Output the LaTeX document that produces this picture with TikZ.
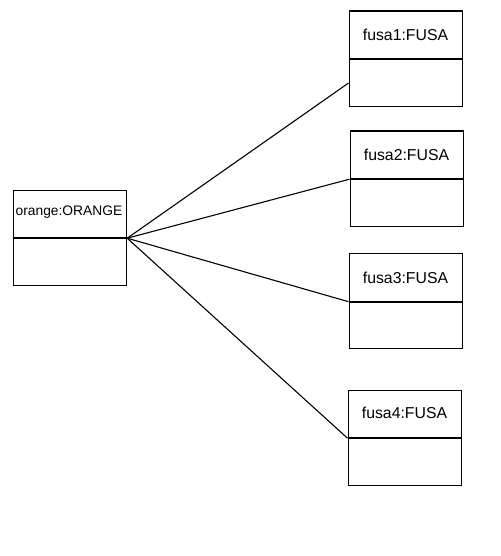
\documentclass[tikz,border=0pt]{standalone}
\usepackage{fontspec}
\setmainfont{Liberation Sans}
\begin{document}
\begin{tikzpicture}[x=1pt,y=-1pt,
  head/.style={draw,line width=1.2pt,minimum width=113.5pt,minimum height=47.5pt,inner sep=0pt,anchor=north west},
  body/.style={draw,line width=1.2pt,minimum width=113.5pt,minimum height=46.5pt,inner sep=0pt,anchor=north},
  lbl/.style={font=\fontsize{15.8}{18}\selectfont},
  lbls/.style={font=\fontsize{13.8}{16}\selectfont},
  link/.style={line width=1.1pt}]
\useasboundingbox (0,0) rectangle (500,556);
% orange
\node[head] (oh) at (12.5,189.5) {};
\node[body] (ob) at (oh.south) {};
\node[lbls] (ot) at (69,212) {orange:ORANGE};
% fusa1
\node[head] (f1h) at (348.5,10.5) {};
\node[body] (f1b) at (f1h.south) {};
\node[lbl] (f1t) at (405.5,35) {fusa1:FUSA};
% fusa2
\node[head] (f2h) at (349.5,130.5) {};
\node[body] (f2b) at (f2h.south) {};
\node[lbl] (f2t) at (406.5,155) {fusa2:FUSA};
% fusa3
\node[head] (f3h) at (348.5,253) {};
\node[body] (f3b) at (f3h.south) {};
\node[lbl] (f3t) at (405.5,278) {fusa3:FUSA};
% fusa4
\node[head] (f4h) at (347.5,389.5) {};
\node[body] (f4b) at (f4h.south) {};
\node[lbl] (f4t) at (404.5,413) {fusa4:FUSA};
% links
\draw[link] (oh.south east) -- (f1b.west);
\draw[link] (oh.south east) -- (f2h.south west);
\draw[link] (oh.south east) -- (f3h.south west);
\draw[link] (oh.south east) -- (f4h.south west);
\end{tikzpicture}
\end{document}
